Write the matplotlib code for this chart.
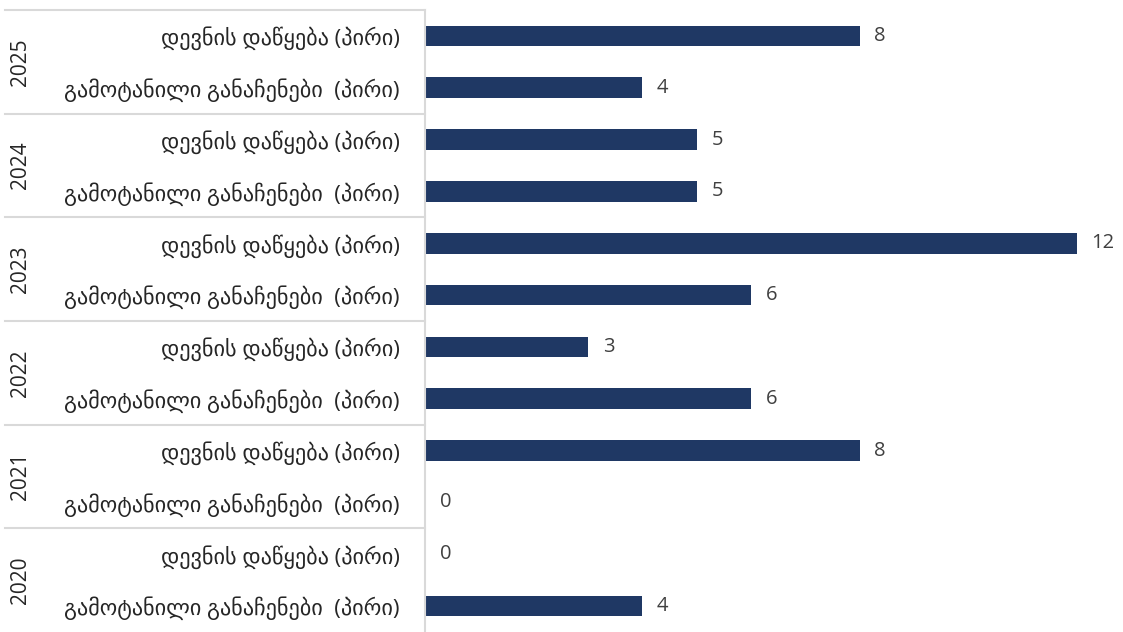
import numpy as np
import matplotlib.pyplot as plt
import matplotlib.transforms as mtransforms

plt.rcParams['font.family'] = ['Open Sans', 'DejaVu Sans']

years = ['2025', '2024', '2023', '2022', '2021', '2020']
categories = ['დევნის დაწყება (პირი)', 'გამოტანილი განაჩენები  (პირი)']
prosecutions = [8, 5, 12, 3, 8, 0]
verdicts = [4, 5, 6, 6, 0, 4]

labels = []
values = []
for i in range(len(years)):
    labels += categories
    values += [prosecutions[i], verdicts[i]]

n = len(values)
y = np.arange(n)

fig = plt.figure(figsize=(11.23, 6.32), dpi=100)
ax = fig.add_axes([425 / 1123, 0, 1 - 425 / 1123, 1 - 10 / 632])

ax.barh(y, values, height=0.4, color='#1f3864')
ax.set_ylim(n - 0.5, -0.5)
ax.set_xlim(0, 698 / 54.33)

for yi, v in zip(y, values):
    ax.text(v + 0.27, yi, str(v), va='center', ha='left', fontsize=14.5, color='#404040')

ax.set_yticks(y)
ax.set_yticklabels(labels, fontsize=16, color='#262626')
ax.tick_params(axis='y', length=0, pad=18)
ax.set_xticks([])

for s in ['top', 'right', 'bottom']:
    ax.spines[s].set_visible(False)
ax.spines['left'].set_color('#d9d9d9')
ax.spines['left'].set_linewidth(1.5)

trans = mtransforms.blended_transform_factory(ax.transAxes, ax.transData)
for g in range(len(years)):
    yy = g * 2 - 0.5
    ax.plot([-0.602, 0], [yy, yy], transform=trans, color='#d9d9d9', lw=1.5, clip_on=False)
for g, yr in enumerate(years):
    ax.text(-0.58, g * 2 + 0.5, yr, rotation=90, va='center', ha='center',
            transform=trans, fontsize=15, color='#262626', clip_on=False)

fig.savefig('out.png', dpi=100)
